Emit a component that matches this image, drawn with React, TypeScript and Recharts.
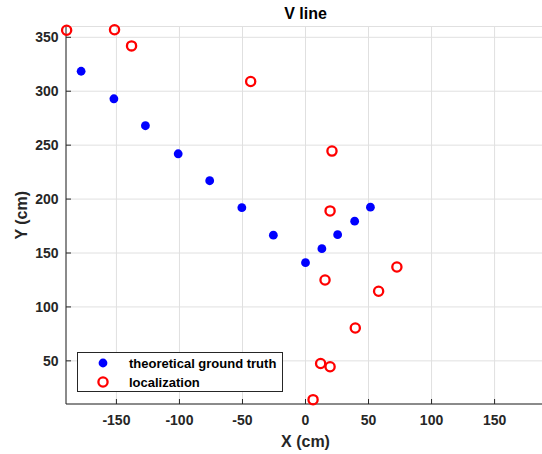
import React from 'react';
import { ScatterChart, Scatter, XAxis, YAxis, CartesianGrid, Legend } from 'recharts';

const truthX = [-178, -152, -127, -101, -76, -50.5, -25.5, 0, 13, 25.5, 39, 51.5];
const truthY = [318.5, 293, 268, 242, 217, 192, 166.5, 141, 154, 167, 179.5, 192.5];

const locX = [-189.5, -151.5, -138, -43.5, 21, 19.5, 15.5, 72.5, 58, 39.5, 12, 19.5, 6];
const locY = [356.5, 357, 342, 309, 244.5, 189, 125, 137, 114.5, 80.5, 47.5, 44.5, 14];

const xTicks = [-150, -100, -50, 0, 50, 100, 150];
const yTicks = [50, 100, 150, 200, 250, 300, 350];

const truthData = truthX.map((x, i) => ({ x, y: truthY[i] }));
const locData = locX.map((x, i) => ({ x, y: locY[i] }));

const FONT = "'Liberation Sans', Arial, Helvetica, sans-serif";
const INK = '#262626';

const XTick = ({ x, y, payload }: any) => {
  const ay = y - 8;
  return (
    <g>
      <line x1={x} x2={x} y1={ay} y2={ay - 5} stroke={INK} />
      <text x={x} y={ay + 21} textAnchor="middle" fill={INK} fontSize={14} fontWeight="bold" fontFamily={FONT}>
        {payload.value}
      </text>
    </g>
  );
};

const YTick = ({ x, y, payload }: any) => {
  const ax = x + 8;
  return (
    <g>
      <line x1={ax} x2={ax + 5} y1={y} y2={y} stroke={INK} />
      <text x={ax - 7.5} y={y + 5} textAnchor="end" fill={INK} fontSize={14} fontWeight="bold" fontFamily={FONT}>
        {payload.value}
      </text>
    </g>
  );
};

const BlueDot = (props: any) => <circle cx={props.cx} cy={props.cy} r={4.4} fill="#0000ff" />;
const RedRing = (props: any) => (
  <circle cx={props.cx} cy={props.cy} r={4.6} fill="none" stroke="#ff0000" strokeWidth={2.3} />
);

const LegendBox = () => (
  <div
    style={{
      width: 206,
      height: 40,
      boxSizing: 'border-box',
      border: `1px solid ${INK}`,
      background: '#fff',
      position: 'relative',
    }}
  >
    <svg width={206} height={40} style={{ position: 'absolute', left: -1, top: -1 }}>
      <circle cx={26} cy={11} r={4.4} fill="#0000ff" />
      <circle cx={26} cy={30} r={4.6} fill="none" stroke="#ff0000" strokeWidth={2.3} />
      <text x={52} y={15.5} fontSize={13} fontWeight="bold" fontFamily={FONT} fill="#000">
        theoretical ground truth
      </text>
      <text x={52} y={34.5} fontSize={13} fontWeight="bold" fontFamily={FONT} fill="#000">
        localization
      </text>
    </svg>
  </div>
);

export default function App() {
  return (
    <div style={{ position: 'absolute', left: 0, top: 0, width: 542, height: 454, overflow: 'hidden', background: '#fff' }}>
      <div
        style={{
          position: 'absolute',
          left: 0,
          top: 5.8,
          width: 611,
          textAlign: 'center',
          fontFamily: FONT,
          fontWeight: 'bold',
          fontSize: 16,
          lineHeight: '16px',
          color: '#000',
        }}
      >
        V line
      </div>
      <ScatterChart width={560} height={454} margin={{ top: 26.5, right: 15, bottom: 0, left: 0 }}>
        <CartesianGrid stroke="#e0e0e0" strokeWidth={1} />
        <XAxis
          type="number"
          dataKey="x"
          domain={[-190, 190]}
          ticks={xTicks}
          interval={0}
          height={50}
          tickSize={8}
          tickMargin={0}
          tickLine={false}
          tick={<XTick />}
          axisLine={{ stroke: INK }}
          label={({ viewBox }: any) => (
            <text
              x={viewBox.x + viewBox.width / 2}
              y={viewBox.y + 43}
              textAnchor="middle"
              fill={INK}
              fontSize={16}
              fontWeight="bold"
              fontFamily={FONT}
            >
              X (cm)
            </text>
          )}
        />
        <YAxis
          type="number"
          dataKey="y"
          domain={[10, 360]}
          ticks={yTicks}
          interval={0}
          width={66}
          tickSize={8}
          tickMargin={0}
          tickLine={false}
          tick={<YTick />}
          axisLine={{ stroke: INK }}
          label={({ viewBox }: any) => {
            const cx = 26.5;
            const cy = viewBox.y + viewBox.height / 2;
            return (
              <text
                x={cx}
                y={cy}
                transform={`rotate(-90, ${cx}, ${cy})`}
                textAnchor="middle"
                fill={INK}
                fontSize={16}
                fontWeight="bold"
                fontFamily={FONT}
              >
                Y (cm)
              </text>
            );
          }}
        />
        <Legend
          layout="vertical"
          align="center"
          verticalAlign="middle"
          wrapperStyle={{ left: 77, top: 352, width: 206, height: 40 }}
          content={() => <LegendBox />}
        />
        <Scatter name="theoretical ground truth" data={truthData} shape={<BlueDot />} isAnimationActive={false} />
        <Scatter name="localization" data={locData} shape={<RedRing />} isAnimationActive={false} />
      </ScatterChart>
    </div>
  );
}
